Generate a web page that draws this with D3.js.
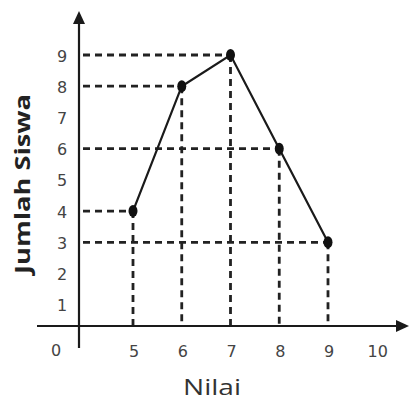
<!DOCTYPE html>
<html>
<head>
<meta charset="utf-8">
<script src="https://cdn.jsdelivr.net/npm/d3@7"></script>
<style>
  html, body { margin: 0; padding: 0; background: #fff; }
  svg { display: block; }
</style>
</head>
<body>
<svg id="chart" width="409" height="403"></svg>
<script>
// ---- data ----
const nilai = [5, 6, 7, 8, 9];
const jumlahSiswa = [4, 8, 9, 6, 3];
const xTickLabels = [5, 6, 7, 8, 9, 10];
const yTickLabels = [1, 2, 3, 4, 5, 6, 7, 8, 9];
const xTitle = "Nilai";
const yTitle = "Jumlah Siswa";
const originLabel = "0";

// ---- layout ----
const svg = d3.select("#chart");
const x = d3.scaleLinear().domain([5, 9]).range([133, 328]);
const y = d3.scaleLinear().domain([0, 9]).range([336, 55]);
const axisX = 79;      // vertical axis position
const axisY = 326;     // horizontal axis position
const ink = "#1a1a1a";

const pts = nilai.map((v, i) => ({ x: v, y: jumlahSiswa[i] }));

// dashed guide lines
const guides = svg.append("g")
  .attr("stroke", "#222")
  .attr("stroke-width", 2.8)
  .attr("stroke-dasharray", "7,5")
  .attr("fill", "none");

guides.selectAll("line.h").data(pts).join("line")
  .attr("class", "h")
  .attr("x1", axisX + 4).attr("x2", d => x(d.x))
  .attr("y1", d => y(d.y)).attr("y2", d => y(d.y));

guides.selectAll("line.v").data(pts).join("line")
  .attr("class", "v")
  .attr("x1", d => x(d.x)).attr("x2", d => x(d.x))
  .attr("y1", d => y(d.y)).attr("y2", axisY);

// axes
svg.append("line")
  .attr("x1", 37).attr("x2", 400)
  .attr("y1", axisY).attr("y2", axisY)
  .attr("stroke", ink).attr("stroke-width", 2.2);
svg.append("line")
  .attr("x1", axisX).attr("x2", axisX)
  .attr("y1", 20).attr("y2", 348)
  .attr("stroke", ink).attr("stroke-width", 2.2);
// arrowheads
svg.append("path")
  .attr("d", `M${axisX},11 L${axisX - 6},24 L${axisX + 6},24 Z`)
  .attr("fill", ink);
svg.append("path")
  .attr("d", `M409,${axisY} L396,${axisY - 6} L396,${axisY + 6} Z`)
  .attr("fill", ink);

// data line
const line = d3.line().x(d => x(d.x)).y(d => y(d.y));
svg.append("path")
  .datum(pts)
  .attr("d", line)
  .attr("fill", "none")
  .attr("stroke", ink)
  .attr("stroke-width", 2.2);

// points
svg.selectAll("ellipse.pt").data(pts).join("ellipse")
  .attr("class", "pt")
  .attr("cx", d => x(d.x))
  .attr("cy", d => y(d.y))
  .attr("rx", 4.5).attr("ry", 6)
  .attr("fill", "#111");

// tick labels
const tickFont = "DejaVu Sans, sans-serif";
svg.selectAll("text.yt").data(yTickLabels).join("text")
  .attr("class", "yt")
  .attr("x", 62)
  .attr("y", d => y(d) + 1)
  .attr("text-anchor", "middle")
  .attr("dominant-baseline", "central")
  .attr("font-family", tickFont)
  .attr("font-size", 16)
  .attr("fill", "#444")
  .text(d => d);

svg.selectAll("text.xt").data(xTickLabels).join("text")
  .attr("class", "xt")
  .attr("x", d => x(d) + 1)
  .attr("y", 351)
  .attr("text-anchor", "middle")
  .attr("dominant-baseline", "central")
  .attr("font-family", tickFont)
  .attr("font-size", 16)
  .attr("fill", "#444")
  .text(d => d);

svg.append("text")
  .attr("x", 56).attr("y", 350)
  .attr("text-anchor", "middle")
  .attr("dominant-baseline", "central")
  .attr("font-family", tickFont)
  .attr("font-size", 16)
  .attr("fill", "#444")
  .text(originLabel);

// titles
svg.append("text")
  .attr("x", 212).attr("y", 395)
  .attr("text-anchor", "middle")
  .attr("font-family", "Open Sans, sans-serif")
  .attr("font-size", 22)
  .attr("textLength", 58)
  .attr("lengthAdjust", "spacingAndGlyphs")
  .attr("fill", "#333")
  .text(xTitle);

svg.append("text")
  .attr("transform", "translate(30,184) rotate(-90)")
  .attr("text-anchor", "middle")
  .attr("font-family", "Open Sans, sans-serif")
  .attr("font-weight", "bold")
  .attr("font-size", 22)
  .attr("textLength", 180)
  .attr("lengthAdjust", "spacingAndGlyphs")
  .attr("fill", "#222")
  .text(yTitle);
</script>
</body>
</html>
